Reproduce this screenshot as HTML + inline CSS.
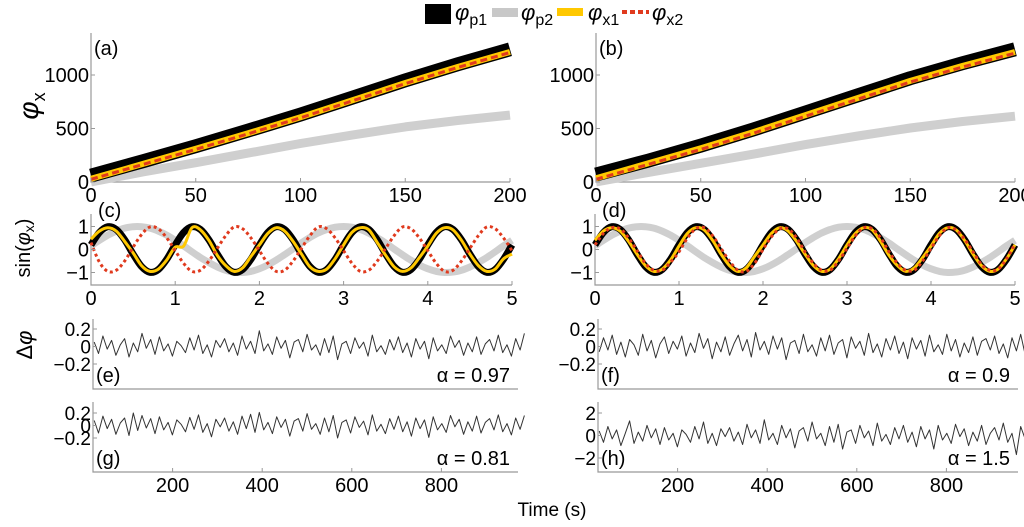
<!DOCTYPE html>
<html><head><meta charset="utf-8"><style>
html,body{margin:0;padding:0;background:#fff;}
svg text{font-family:"Liberation Sans",sans-serif;fill:#000;}
</style></head><body>
<svg id="fig" width="1024" height="522" viewBox="0 0 1024 522" xmlns="http://www.w3.org/2000/svg">
<g id="legend">
 <rect x="425" y="4" width="26" height="20" fill="#000"/>
 <text x="455" y="20" font-size="22" font-style="italic">φ<tspan font-size="16" font-style="normal" dy="5">p1</tspan></text>
 <rect x="492" y="8" width="26" height="9" fill="#c8c8c8"/>
 <text x="521" y="20" font-size="22" font-style="italic">φ<tspan font-size="16" font-style="normal" dy="5">p2</tspan></text>
 <rect x="557" y="8" width="26" height="8" fill="#ffc800"/>
 <text x="588" y="20" font-size="22" font-style="italic">φ<tspan font-size="16" font-style="normal" dy="5">x1</tspan></text>
 <line x1="622" y1="12" x2="649" y2="12" stroke="#e03a1e" stroke-width="4" stroke-dasharray="5,3"/>
 <text x="652" y="20" font-size="22" font-style="italic">φ<tspan font-size="16" font-style="normal" dy="5">x2</tspan></text>
</g>
<text font-size="28" font-style="italic" transform="translate(38,106) rotate(-90)" text-anchor="middle">φ<tspan font-size="18" font-style="normal" dy="7">x</tspan></text>
<text font-size="20" transform="translate(30,248) rotate(-90)" text-anchor="middle">sin(<tspan font-style="italic">φ</tspan><tspan font-size="14" dy="4">x</tspan><tspan dy="-4">)</tspan></text>
<text font-size="22" transform="translate(32,345) rotate(-90)" text-anchor="middle">Δ<tspan font-style="italic">φ</tspan></text>
<text x="552" y="516" font-size="19" text-anchor="middle">Time (s)</text>
</svg>
<script>
// ---- data ----
const phaseT = [0,25,50,75,100,125,150,175,200];
const aP1 = [60,195,335,480,630,790,950,1100,1240];
const aP2 = [0,95,180,270,360,440,515,575,625];
const aX1 = [30,170,310,455,605,765,925,1075,1215];
const aX2 = [25,165,305,450,600,760,920,1070,1210];
const bP1 = [70,200,340,490,650,810,970,1110,1240];
const bP2 = [0,90,175,260,350,430,505,565,615];
const bX1 = [35,175,315,465,625,785,945,1085,1215];
const bX2 = [25,165,305,455,615,775,935,1075,1205];
const aTicksX = [0,50,100,150,200];
const aTicksY = [0,500,1000];

const sinT = [0,0.1,0.2,0.3,0.4,0.5,0.6,0.7,0.8,0.9,1,1.1,1.2,1.3,1.4,1.5,1.6,1.7,1.8,1.9,2,2.1,2.2,2.3,2.4,2.5,2.6,2.7,2.8,2.9,3,3.1,3.2,3.3,3.4,3.5,3.6,3.7,3.8,3.9,4,4.1,4.2,4.3,4.4,4.5,4.6,4.7,4.8,4.9,5];
const sinP1 = [0.20,0.74,0.99,0.87,0.42,-0.20,-0.74,-0.99,-0.87,-0.42,0.20,0.74,0.99,0.87,0.42,-0.20,-0.74,-0.99,-0.87,-0.42,0.20,0.74,0.99,0.87,0.42,-0.20,-0.74,-0.99,-0.87,-0.42,0.20,0.74,0.99,0.87,0.42,-0.20,-0.74,-0.99,-0.87,-0.42,0.20,0.74,0.99,0.87,0.42,-0.20,-0.74,-0.99,-0.87,-0.42,0.20];
const sinP2 = [0.16,0.40,0.62,0.80,0.93,0.99,0.99,0.93,0.80,0.62,0.40,0.16,-0.10,-0.35,-0.57,-0.76,-0.90,-0.98,-1.00,-0.95,-0.84,-0.67,-0.46,-0.22,0.03,0.29,0.52,0.72,0.87,0.97,1.00,0.97,0.87,0.71,0.51,0.28,0.02,-0.23,-0.47,-0.68,-0.84,-0.95,-1.00,-0.98,-0.90,-0.76,-0.57,-0.35,-0.10,0.16,0.40];
const cX1 = [0.45,0.80,0.95,0.80,0.35,-0.15,-0.70,-0.95,-0.85,-0.45,0.10,0.15,0.95,0.85,0.40,-0.25,-0.70,-0.95,-0.80,-0.30,0.20,0.70,0.95,0.80,0.35,-0.20,-0.75,-0.95,-0.85,-0.40,0.20,0.75,0.95,0.85,0.30,-0.25,-0.75,-0.95,-0.80,-0.35,0.15,0.70,0.95,0.85,0.40,-0.20,-0.70,-0.95,-0.85,-0.40,-0.20];
const cX2 = [0.30,-0.55,-0.95,-0.90,-0.50,0.10,0.65,0.98,0.90,0.50,-0.05,-0.60,-0.95,-0.90,-0.50,0.05,0.60,0.98,0.90,0.50,-0.05,-0.60,-0.95,-0.90,-0.50,0.05,0.60,0.98,0.90,0.50,-0.05,-0.60,-0.95,-0.90,-0.50,0.05,0.60,0.98,0.90,0.50,-0.05,-0.60,-0.95,-0.90,-0.50,0.05,0.60,0.98,0.90,0.50,-0.05];
const dX1 = [0.40,0.80,0.95,0.80,0.35,-0.20,-0.70,-0.95,-0.85,-0.45,0.15,0.70,0.95,0.85,0.40,-0.20,-0.70,-0.95,-0.80,-0.30,0.20,0.70,0.95,0.80,0.35,-0.20,-0.70,-0.95,-0.85,-0.40,0.20,0.70,0.95,0.85,0.35,-0.25,-0.70,-0.95,-0.80,-0.35,0.15,0.70,0.95,0.85,0.40,-0.20,-0.70,-0.95,-0.85,-0.40,0.20];
const dX2 = [0.20,0.70,0.95,0.90,0.50,-0.05,-0.60,-0.90,-0.90,-0.55,-0.10,0.50,0.90,0.95,0.60,0.05,-0.50,-0.90,-0.95,-0.60,0.00,0.55,0.90,0.90,0.50,-0.10,-0.60,-0.90,-0.90,-0.50,0.05,0.60,0.95,0.90,0.50,-0.10,-0.60,-0.90,-0.90,-0.50,0.05,0.60,0.95,0.85,0.45,-0.10,-0.65,-0.90,-0.85,-0.40,0.25];
const sinTicksX = [0,1,2,3,4,5];
const sinTicksY = [-1,0,1];

const noiseStep = 9.7;
const noiseE = [0.05,-0.08,0.12,-0.03,0.07,-0.10,0.02,0.09,-0.12,0.04,-0.06,0.15,-0.02,0.08,-0.09,0.11,-0.05,0.03,-0.11,0.06,0.01,-0.07,0.10,-0.04,0.13,-0.08,0.02,-0.12,0.07,-0.01,0.09,-0.06,0.04,-0.10,0.12,-0.03,0.06,-0.08,0.18,-0.05,0.03,-0.09,0.11,-0.02,0.07,-0.13,0.05,0.08,-0.06,0.14,-0.04,0.02,-0.10,0.09,-0.07,0.12,-0.15,0.03,0.06,-0.08,0.10,-0.02,0.05,-0.11,0.13,-0.06,0.01,-0.09,0.08,-0.04,0.11,-0.07,0.04,-0.12,0.09,-0.03,0.06,-0.14,0.10,-0.05,0.02,-0.08,0.12,-0.01,0.07,-0.10,0.04,-0.06,0.11,-0.09,0.03,0.08,-0.05,0.13,-0.07,0.02,-0.11,0.09,-0.04,0.15];
const noiseG = [0.08,-0.12,0.15,-0.05,0.10,-0.14,0.04,0.12,-0.16,0.20,-0.08,0.16,-0.04,0.11,-0.13,0.14,-0.07,0.05,-0.15,0.09,0.02,-0.10,0.13,-0.06,0.17,-0.11,0.03,-0.18,0.10,-0.02,0.12,-0.09,0.06,-0.14,0.15,-0.05,0.18,-0.11,0.21,-0.07,0.05,-0.13,0.14,-0.03,0.10,-0.17,0.07,0.11,-0.09,0.19,-0.06,0.03,-0.14,0.12,-0.10,0.16,-0.20,0.05,0.09,-0.12,0.14,-0.03,0.07,-0.15,0.17,-0.09,0.02,-0.13,0.11,-0.06,0.15,-0.10,0.06,-0.17,0.12,-0.05,0.09,-0.19,0.14,-0.07,0.03,-0.11,0.16,-0.02,0.10,-0.14,0.06,-0.09,0.15,-0.12,0.05,0.11,-0.07,0.17,-0.10,0.03,-0.15,0.12,-0.06,0.16];
const noiseF = [-0.06,0.10,-0.04,0.13,-0.09,0.05,-0.12,0.08,0.02,-0.10,0.14,-0.05,0.07,-0.13,0.03,0.11,-0.08,0.06,-0.03,0.12,-0.11,0.04,-0.07,0.15,-0.02,0.09,-0.14,0.05,-0.06,0.11,-0.10,0.03,0.13,-0.05,0.08,-0.12,0.16,-0.04,0.06,-0.09,0.12,-0.03,0.10,-0.15,0.04,0.07,-0.08,0.14,-0.06,0.02,-0.11,0.10,-0.05,0.13,-0.09,0.04,0.08,-0.13,0.11,-0.02,0.06,-0.10,0.15,-0.07,0.03,-0.12,0.09,-0.04,0.12,-0.08,0.05,-0.14,0.10,-0.03,0.07,-0.11,0.13,-0.06,0.02,-0.09,0.14,-0.05,0.08,-0.12,0.04,-0.07,0.11,-0.10,0.06,0.09,-0.04,0.12,-0.08,0.03,-0.13,0.10,-0.05,0.14,-0.09,0.06];
const noiseH = [0.4,-0.6,0.8,-0.3,0.5,-0.9,0.2,1.3,-0.7,0.3,-0.5,0.9,-0.2,0.6,-0.8,0.7,-0.4,0.2,-1.0,0.5,0.1,-0.6,0.8,-0.3,1.2,-0.7,0.2,-0.9,0.6,-0.1,0.7,-0.5,0.3,-0.8,1.0,-0.2,0.5,-0.7,1.4,-0.4,0.2,-0.8,0.9,-0.2,0.6,-1.1,0.4,0.7,-0.5,1.2,-0.3,0.2,-0.9,0.8,-0.6,1.0,-1.2,0.3,0.5,-0.7,0.9,-0.2,0.4,-0.9,1.1,-0.5,0.1,-0.8,0.7,-0.3,0.9,-0.6,0.3,-1.0,0.8,-0.3,0.5,-1.2,0.9,-0.4,0.2,-0.7,1.0,-0.1,0.6,-0.9,0.3,-0.5,0.9,-0.8,0.2,0.7,-0.4,1.1,-0.6,0.2,-1.7,0.8,-0.3,1.2];
const noiseTicksX = [200,400,600,800];
const smallTicksY = [-0.2,0,0.2];
const bigTicksY = [-2,0,2];

// ---- drawing ----
const svg = document.getElementById('fig');
const NS = 'http://www.w3.org/2000/svg';
function mk(tag, attrs, parent){
  const e = document.createElementNS(NS, tag);
  for (const k in attrs) e.setAttribute(k, attrs[k]);
  (parent||svg).appendChild(e);
  return e;
}
function scale(d0,d1,r0,r1){ return v => r0 + (v-d0)/(d1-d0)*(r1-r0); }
function pathFrom(xs, ys, sx, sy){
  return xs.map((x,i)=>(i?'L':'M')+sx(x).toFixed(1)+','+sy(ys[i]).toFixed(1)).join('');
}
function smoothPath(xs, ys, sx, sy){
  const p = xs.map((x,i)=>[sx(x), sy(ys[i])]);
  let d = 'M'+p[0][0].toFixed(1)+','+p[0][1].toFixed(1);
  for (let i=0;i<p.length-1;i++){
    const p0=p[Math.max(i-1,0)], p1=p[i], p2=p[i+1], p3=p[Math.min(i+2,p.length-1)];
    const c1=[p1[0]+(p2[0]-p0[0])/6, p1[1]+(p2[1]-p0[1])/6];
    const c2=[p2[0]-(p3[0]-p1[0])/6, p2[1]-(p3[1]-p1[1])/6];
    d+='C'+c1[0].toFixed(1)+','+c1[1].toFixed(1)+' '+c2[0].toFixed(1)+','+c2[1].toFixed(1)+' '+p2[0].toFixed(1)+','+p2[1].toFixed(1);
  }
  return d;
}
function axes(g, L, R, T, B, name){
  const a = mk('path',{d:`M${L},${T}L${L},${B}L${R},${B}`,fill:'none',stroke:'#999','stroke-width':1.2},g);
  
  
}
function xTicks(g, ticks, sx, B, name, fs){
  ticks.forEach(t=>{
    const l = mk('line',{x1:sx(t),x2:sx(t),y1:B,y2:B-4,stroke:'#999'},g);
    
    
    const tx = mk('text',{x:sx(t),y:B+20,'font-size':fs,'text-anchor':'middle'},g);
    tx.textContent = t;
    
    
  });
}
function fmt(v){ return v<0 ? '\u2212'+Math.abs(v) : String(v); }
function yTicks(g, ticks, sy, L, name, fs){
  ticks.forEach(t=>{
    const l = mk('line',{x1:L,x2:L+4,y1:sy(t),y2:sy(t),stroke:'#999'},g);
    
    
    const tx = mk('text',{x:L-2,y:sy(t)+7,'font-size':fs,'text-anchor':'end'},g);
    tx.textContent = fmt(t);
    
    
  });
}
function label(g, x, y, txt, anchor){
  const t = mk('text',{x:x,y:y,'font-size':20,'text-anchor':anchor||'start'},g);
  t.textContent = txt;
  
  
}
function line(g, d, stroke, w, dash, name){
  const p = mk('path',{d:d,fill:'none',stroke:stroke,'stroke-width':w,'stroke-linejoin':'round'},g);
  if (dash) p.setAttribute('stroke-dasharray', dash);
  
  
}

// phase panels
[[91,510,'a',aP1,aP2,aX1,aX2],[596,1015,'b',bP1,bP2,bX1,bX2]].forEach(([L,R,id,p1,p2,x1,x2])=>{
  const g = mk('g',{});
  
  
  const sx = scale(0,200,L,R), sy = scale(0,500,182,128.5);
  axes(g,L,R,33,182,'panel-'+id);
  line(g, pathFrom(phaseT,p2,sx,sy), '#cfcfcf', 9, null, 'series-p2');
  line(g, pathFrom(phaseT,p1,sx,sy), '#000', 14, null, 'series-p1');
  line(g, pathFrom(phaseT,x1,sx,sy), '#ffc800', 6, null, 'series-x1');
  line(g, pathFrom(phaseT,x2,sx,sy), '#e03a1e', 3, '7,4', 'series-x2');
  xTicks(g, aTicksX, sx, 182, 'panel-'+id, 20);
  yTicks(g, aTicksY, sy, L, 'panel-'+id, 20);
  label(g, L+3, 55, '('+id+')');
});

// sine panels
[[91,512,'c',cX1,cX2],[595,1015,'d',dX1,dX2]].forEach(([L,R,id,x1,x2])=>{
  const g = mk('g',{});
  
  
  const sx = scale(0,5,L,R), sy = scale(-1,1,272.5,226.5);
  axes(g,L,R,214,285,'panel-'+id);
  line(g, smoothPath(sinT,sinP2,sx,sy), '#cfcfcf', 7, null, 'series-p2');
  line(g, smoothPath(sinT,sinP1,sx,sy), '#000', 7, null, 'series-p1');
  line(g, smoothPath(sinT,x1,sx,sy), '#ffc800', 3, null, 'series-x1');
  line(g, smoothPath(sinT,x2,sx,sy), '#e03a1e', 3, '3,3', 'series-x2');
  xTicks(g, sinTicksX, sx, 285, 'panel-'+id, 20);
  yTicks(g, sinTicksY, sy, L, 'panel-'+id, 20);
  label(g, L+7, 217, '('+id+')');
});

// noise panels
[[93,518,83,319,389,'e',noiseE,smallTicksY,0.2,329,'α = 0.97',false],
 [598,1018,588,319,389,'f',noiseF,smallTicksY,0.2,329,'α = 0.9',false],
 [93,518,83,402,472,'g',noiseG,smallTicksY,0.2,413,'α = 0.81',true],
 [598,1018,588,402,472,'h',noiseH,bigTicksY,2,413,'α = 1.5',true]].forEach(([L,R,x0,T,B,id,vals,ty,tmax,ytop,alpha,showX])=>{
  const g = mk('g',{});
  
  
  const sx = scale(0,200,x0,x0+89.6);
  const zeroY = id==='g' ? 425.5 : (id==='h' ? 435.5 : 346.5);
  const sy = scale(0,tmax,zeroY,ytop);
  axes(g,L,R,T,B,'panel-'+id);
  const ts = vals.map((v,i)=>25+i*noiseStep);
  line(g, pathFrom(ts,vals,sx,sy), '#333', 1, null, 'series-delta-phi');
  yTicks(g, ty, sy, L, 'panel-'+id, 19);
  if (showX) xTicks(g, noiseTicksX, sx, B, 'panel-'+id, 20);
  label(g, L+3, B-7, '('+id+')');
  label(g, R-8, B-7, alpha, 'end');
});
</script>
</body></html>
